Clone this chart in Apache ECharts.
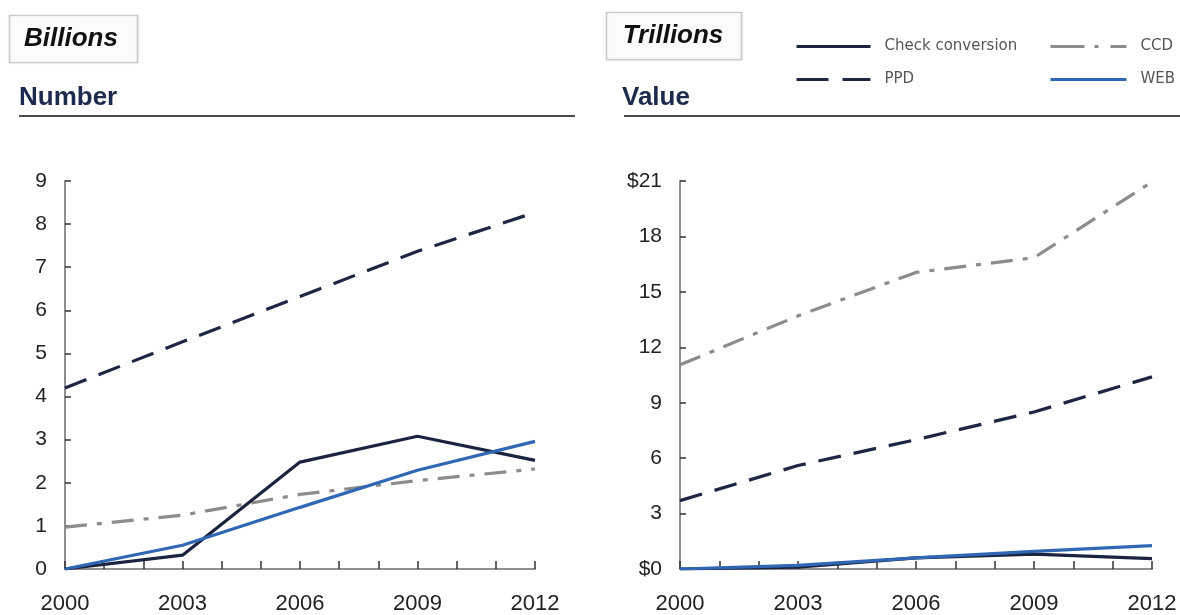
<!DOCTYPE html>
<html>
<head>
<meta charset="utf-8">
<script src="https://cdn.jsdelivr.net/npm/echarts@6/dist/echarts.min.js"></script>
<style>
html,body{margin:0;padding:0;background:#fff;}
#chart{width:1180px;height:615px;}
</style>
</head>
<body>
<div id="chart"></div>
<script>
// ---- data ----
var years = [2000, 2003, 2006, 2009, 2012];
var seriesNames = ['Check conversion', 'PPD', 'CCD', 'WEB'];

// Number (billions)
var numCheck = [0, 0.32, 2.48, 3.08, 2.52];
var numPPD   = [4.2, 5.27, 6.32, 7.37, 8.27];
var numCCD   = [0.97, 1.25, 1.73, 2.05, 2.32];
var numWEB   = [0, 0.55, 1.43, 2.29, 2.96];

// Value (trillions)
var valCheck = [0, 0.1, 0.6, 0.8, 0.56];
var valPPD   = [3.7, 5.6, 7.0, 8.5, 10.4];
var valCCD   = [11.05, 13.7, 16.05, 16.85, 20.95];
var valWEB   = [0, 0.2, 0.6, 0.95, 1.27];

var numTicks = [0, 9, 1];      // min, max, interval
var valTicks = [0, 21, 3];

// ---- styles ----
var styles = {
  'Check conversion': {color: '#1a2340', type: 'solid', legendType: 'solid'},
  'PPD': {color: '#1d2744', type: [23, 13], legendType: [32, 14]},
  'CCD': {color: '#8c8c8c', type: [22, 10, 5, 10], legendType: [34, 10, 4, 12]},
  'WEB': {color: '#2f67b5', type: 'solid', legendType: 'solid'}
};

function pairs(vals) { return years.map(function (y, i) { return [y, vals[i]]; }); }

function mkSeries(name, vals, idx) {
  var s = styles[name];
  return {
    name: name, type: 'line', xAxisIndex: idx, yAxisIndex: idx,
    data: pairs(vals), symbol: 'none', showSymbol: false, silent: true,
    lineStyle: {color: s.color, width: 3.2, type: s.type, cap: 'butt'},
    itemStyle: {color: s.color}
  };
}

var fontFam = '"Liberation Sans", Arial, sans-serif';
var legFam = '"DejaVu Sans", Verdana, sans-serif';

function xAxis(idx) {
  return {
    type: 'value', gridIndex: idx, min: 2000, max: 2012, interval: 1,
    axisLine: {show: true, lineStyle: {color: '#8f8f8f', width: 2}},
    axisTick: {show: true, inside: true, length: 8, lineStyle: {color: '#333', width: 1.5}},
    axisLabel: {
      margin: 24, fontSize: 22, color: '#222', fontFamily: fontFam,
      formatter: function (v) { return ((v - 2000) % 3 === 0) ? String(v) : ''; }
    },
    splitLine: {show: false}
  };
}

function yAxis(idx, t, fmt) {
  return {
    type: 'value', gridIndex: idx, min: t[0], max: t[1], interval: t[2],
    axisLine: {show: true, lineStyle: {color: '#8f8f8f', width: 2}},
    axisTick: {show: true, inside: true, length: 6, lineStyle: {color: '#333', width: 1.5}},
    axisLabel: {margin: 18, fontSize: 21, color: '#222', fontFamily: fontFam, formatter: fmt},
    splitLine: {show: false}
  };
}

function legendItem(name) {
  var s = styles[name];
  return {name: name, lineStyle: {type: s.legendType, width: 3, color: s.color, cap: 'butt'}};
}

var chart = echarts.init(document.getElementById('chart'), null, {renderer: 'canvas'});

var legendCommon = {
  orient: 'vertical', top: 39, padding: 0,
  itemHeight: 14, itemGap: 18, selectedMode: false,
  itemStyle: {opacity: 0, borderWidth: 0},
  textStyle: {fontSize: 15, color: '#555', fontFamily: legFam, padding: [0, 0, 0, 9]}
};

var option = {
  backgroundColor: '#fff',
  animation: false,
  grid: [
    {left: 65, right: 645, top: 181, bottom: 44},
    {left: 680, right: 28, top: 181, bottom: 44}
  ],
  xAxis: [xAxis(0), xAxis(1)],
  yAxis: [
    yAxis(0, numTicks, function (v) { return String(v); }),
    yAxis(1, valTicks, function (v) { return (v === valTicks[0] || v === valTicks[1]) ? '$' + v : String(v); })
  ],
  legend: [
    Object.assign({}, legendCommon, {
      data: [legendItem('Check conversion'), legendItem('PPD')], left: 795, itemWidth: 74
    }),
    Object.assign({}, legendCommon, {
      data: [legendItem('CCD'), legendItem('WEB')], left: 1049, itemWidth: 76
    })
  ],
  series: [
    mkSeries('CCD', numCCD, 0),
    mkSeries('PPD', numPPD, 0),
    mkSeries('Check conversion', numCheck, 0),
    mkSeries('WEB', numWEB, 0),
    mkSeries('CCD', valCCD, 1),
    mkSeries('PPD', valPPD, 1),
    mkSeries('Check conversion', valCheck, 1),
    mkSeries('WEB', valWEB, 1)
  ],
  graphic: [
    {type: 'rect', shape: {x: 9.5, y: 15.5, width: 128, height: 47}, style: {fill: '#fbfbfb', stroke: '#c8c8c8', lineWidth: 1.2, shadowBlur: 2, shadowColor: 'rgba(0,0,0,0.15)'}},
    {type: 'text', x: 71, y: 39, style: {text: 'Billions', font: 'italic bold 26px ' + fontFam, fill: '#111', align: 'center', verticalAlign: 'middle'}},
    {type: 'rect', shape: {x: 606.5, y: 12.5, width: 135, height: 47}, style: {fill: '#fbfbfb', stroke: '#c8c8c8', lineWidth: 1.2, shadowBlur: 2, shadowColor: 'rgba(0,0,0,0.15)'}},
    {type: 'text', x: 673, y: 36, style: {text: 'Trillions', font: 'italic bold 26px ' + fontFam, fill: '#111', align: 'center', verticalAlign: 'middle'}},
    {type: 'text', x: 19, y: 98, style: {text: 'Number', font: 'bold 26px ' + fontFam, fill: '#1c2a4e', align: 'left', verticalAlign: 'middle'}},
    {type: 'text', x: 622, y: 98, style: {text: 'Value', font: 'bold 26px ' + fontFam, fill: '#1c2a4e', align: 'left', verticalAlign: 'middle'}},
    {type: 'line', shape: {x1: 19, y1: 116, x2: 575, y2: 116}, style: {stroke: '#4a4a4a', lineWidth: 2}},
    {type: 'line', shape: {x1: 624, y1: 116, x2: 1180, y2: 116}, style: {stroke: '#4a4a4a', lineWidth: 2}}
  ]
};
chart.setOption(option);
</script>
</body>
</html>
